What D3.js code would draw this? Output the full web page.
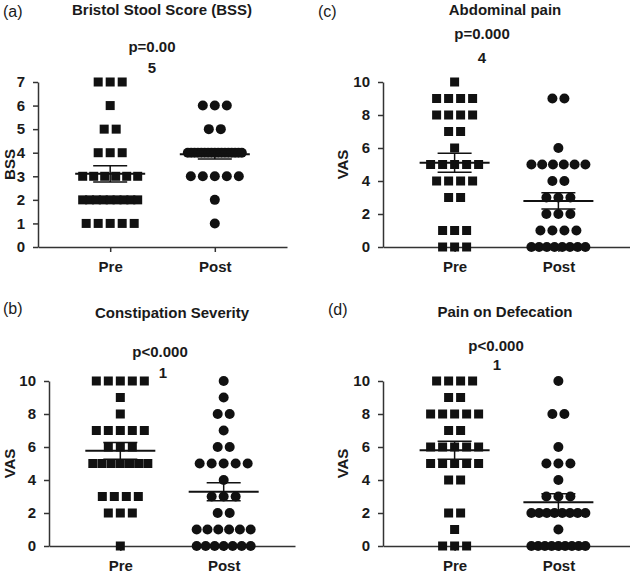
<!DOCTYPE html>
<html><head><meta charset="utf-8">
<script src="https://cdn.jsdelivr.net/npm/d3@7"></script>
<style>
body{margin:0;background:#fff}
text{font-family:"Liberation Sans",Arial,Helvetica,sans-serif}
</style>
</head><body>
<svg id="chart" width="630" height="576"></svg>
<script>
// ---- data ----
const groups = ["Pre", "Post"];
const bssPre  = [7,7,7,6,5,5,4,4,4,3,3,3,3,3,3,2,2,2,2,2,2,2,2,2,1,1,1,1,1];
const bssPost = [6,6,6,5,5,4,4,4,4,4,4,4,4,4,4,4,4,4,4,4,4,4,3,3,3,3,3,2,1];
const abdPre  = [10,9,9,9,9,8,8,8,8,7,7,6,5,5,5,5,5,4,4,4,4,3,3,1,1,1,0,0,0];
const abdPost = [9,9,6,5,5,5,5,5,5,4,4,3,3,3,2,2,2,1,1,1,1,0,0,0,0,0,0,0,0];
const conPre  = [10,10,10,10,10,9,8,7,7,7,7,7,6,6,6,5,5,5,5,5,5,5,3,3,3,3,2,2,2,0];
const conPost = [10,9,8,8,7,6,6,5,5,5,5,5,4,3,3,3,2,2,1,1,1,1,1,1,0,0,0,0,0,0,0];
const painPre = [10,10,10,10,9,9,8,8,8,8,8,7,7,6,6,6,6,6,5,5,5,5,5,4,4,2,2,1,0,0,0];
const painPost= [10,8,8,6,5,5,5,4,3,3,3,2,2,2,2,2,2,2,2,1,0,0,0,0,0,0,0,0,0];
const bssTicks = [0,1,2,3,4,5,6,7];
const vasTicks = [0,2,4,6,8,10];

const panels = [
  {tag:"(a)", title:"Bristol Stool Score (BSS)", yLabel:"BSS", p:["p=0.00","5"], yMax:7, ticks:bssTicks,
   pre:bssPre, post:bssPost, box:{x0:38,x1:287,y0:247,y1:82}, tagXY:[3,17], titleXY:[162,15],
   pXY:[[152,52],[152,73]], yLabX:10},
  {tag:"(c)", title:"Abdominal pain", yLabel:"VAS", p:["p=0.000","4"], yMax:10, ticks:vasTicks,
   pre:abdPre, post:abdPost, box:{x0:383,x1:630,y0:247,y1:82}, tagXY:[318,17], titleXY:[505,15],
   pXY:[[482,39],[482,63]], yLabX:343},
  {tag:"(b)", title:"Constipation Severity", yLabel:"VAS", p:["p<0.000","1"], yMax:10, ticks:vasTicks,
   pre:conPre, post:conPost, box:{x0:49,x1:295,y0:546,y1:381}, tagXY:[3,314], titleXY:[172,318],
   pXY:[[160,357],[163,378]], yLabX:10},
  {tag:"(d)", title:"Pain on Defecation", yLabel:"VAS", p:["p<0.000","1"], yMax:10, ticks:vasTicks,
   pre:painPre, post:painPost, box:{x0:383,x1:630,y0:546,y1:381}, tagXY:[328,315], titleXY:[505,317],
   pXY:[[496,351],[497,370]], yLabX:343}
];

const svg = d3.select("#chart");
const ink = "#111", txt = "#1a1a1a";

panels.forEach(P => {
  const g = svg.append("g");
  const y = d3.scaleLinear().domain([0, P.yMax]).range([P.box.y0, P.box.y1]);
  const x = d3.scalePoint().domain(groups).range([P.box.x0, P.box.x1]).padding(0.69);

  // axes
  const ya = g.append("g").attr("transform", `translate(${P.box.x0},0)`)
    .call(d3.axisLeft(y).tickValues(P.ticks).tickFormat(d3.format("d")).tickSize(5).tickSizeOuter(0).tickPadding(8));
  const xa = g.append("g").attr("transform", `translate(0,${P.box.y0})`)
    .call(d3.axisBottom(x).tickSize(5).tickSizeOuter(0).tickPadding(9));
  [ya, xa].forEach(a => {
    a.select(".domain").attr("stroke", "#333").attr("stroke-width", 1.5);
    a.selectAll(".tick line").attr("stroke", "#333").attr("stroke-width", 1.5);
    a.selectAll(".tick text").attr("fill", txt).attr("font-size", 15).attr("font-weight", "bold")
      .attr("font-family", '"Liberation Sans",Arial,sans-serif');
  });

  // y label
  g.append("text").attr("transform", `translate(${P.yLabX},${(P.box.y0 + P.box.y1) / 2}) rotate(-90)`)
    .attr("text-anchor", "middle").attr("dy", "0.35em").attr("font-size", 15).attr("font-weight", "bold")
    .attr("fill", txt).text(P.yLabel);

  // tag, title, p
  g.append("text").attr("x", P.tagXY[0]).attr("y", P.tagXY[1]).attr("font-size", 16).attr("fill", txt).text(P.tag);
  g.append("text").attr("x", P.titleXY[0]).attr("y", P.titleXY[1]).attr("text-anchor", "middle")
    .attr("font-size", 15).attr("font-weight", "bold").attr("fill", txt).text(P.title);
  P.p.forEach((s, i) => g.append("text").attr("x", P.pXY[i][0]).attr("y", P.pXY[i][1])
    .attr("text-anchor", "middle").attr("font-size", 15).attr("font-weight", "bold").attr("fill", txt).text(s));

  // points
  [["Pre", P.pre], ["Post", P.post]].forEach(([grp, vals]) => {
    const cx = x(grp);
    const size = grp === "Pre" ? 9 : 10;
    const pts = [];
    d3.groups(vals, v => v).forEach(([v, arr]) => {
      const n = arr.length;
      const s = n > 1 ? Math.min(12, (64 - size) / (n - 1)) : 0;
      arr.forEach((_, i) => pts.push({v, dx: (i - (n - 1) / 2) * s}));
    });
    if (grp === "Pre") {
      g.append("g").selectAll("rect").data(pts).join("rect")
        .attr("x", d => cx + d.dx - 4.5).attr("y", d => y(d.v) - 4.5)
        .attr("width", 9).attr("height", 9).attr("fill", ink);
    } else {
      g.append("g").selectAll("circle").data(pts).join("circle")
        .attr("cx", d => cx + d.dx).attr("cy", d => y(d.v)).attr("r", 5).attr("fill", ink);
    }
    // mean and SEM
    const m = d3.mean(vals), sem = d3.deviation(vals) / Math.sqrt(vals.length);
    const eg = g.append("g").attr("stroke", ink);
    eg.append("line").attr("x1", cx - 35).attr("x2", cx + 35).attr("y1", y(m)).attr("y2", y(m)).attr("stroke-width", 2);
    eg.append("line").attr("x1", cx).attr("x2", cx).attr("y1", y(m - sem)).attr("y2", y(m + sem)).attr("stroke-width", 1.5);
    [m - sem, m + sem].forEach(v => eg.append("line").attr("x1", cx - 17).attr("x2", cx + 17)
      .attr("y1", y(v)).attr("y2", y(v)).attr("stroke-width", 1.5));
  });
});
</script>
</body></html>
